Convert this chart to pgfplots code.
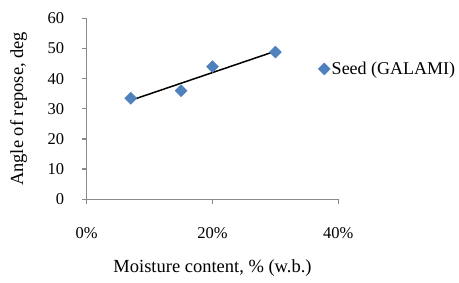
\documentclass[border=0pt]{standalone}
\usepackage{pgfplots}
\pgfplotsset{compat=1.18}
\usepackage{fontspec}
\setmainfont{Liberation Serif}
\definecolor{axgray}{HTML}{898989}
\definecolor{mblue}{HTML}{4F81BD}
\definecolor{mblueedge}{HTML}{4A7EBB}
\begin{document}
\begin{tikzpicture}
\begin{axis}[
  at={(0,0)}, anchor=origin,
  scale only axis,
  width=251.6bp, height=181bp,
  xmin=0, xmax=40, ymin=0, ymax=60,
  xtick={0,20,40}, xticklabels={0\%,20\%,40\%},
  ytick={0,10,20,30,40,50,60},
  axis x line*=bottom, axis y line*=left,
  axis line style={axgray, line width=1.3bp, -},
  tick style={axgray, line width=1.3bp},
  tick align=outside,
  major tick length=5bp,
  /pgf/number format/assume math mode=true,
  ticklabel style={font=\fontsize{16.5bp}{19bp}\selectfont, text=black},
  xticklabel shift=20bp,
  yticklabel shift=14bp,
  label style={font=\fontsize{18.5bp}{22bp}\selectfont},
  xlabel={Moisture content, \% (w.b.)},
  ylabel={Angle of repose, deg},
  xlabel style={at={(axis description cs:0.5,0)}, anchor=center, yshift=-68.5bp},
  ylabel style={at={(axis description cs:0,0.5)}, anchor=center, yshift=68bp},
  legend style={draw=none, fill=none, at={(axis description cs:0.92,0.72)}, anchor=west,
    font=\fontsize{18bp}{22bp}\selectfont, inner sep=0pt, nodes={inner sep=1.5pt}},
  legend cell align=left,
  clip=false,
]
\addplot[only marks, mark=square*, mark size=4.2bp,
  mark options={rotate=45, fill=mblue, draw=mblueedge, line width=0.5bp}]
  coordinates {(7,33.5) (15,36) (20,44) (30,48.8)};
\addlegendentry{Seed (GALAMI)}
\addplot[black, line width=1.5bp, forget plot] coordinates {(7,32.8) (30,49.1)};
\end{axis}
\pgfresetboundingbox
\path[use as bounding box] (-86.7bp,-83.7bp) rectangle (372.3bp,199.3bp);
\end{tikzpicture}
\end{document}
